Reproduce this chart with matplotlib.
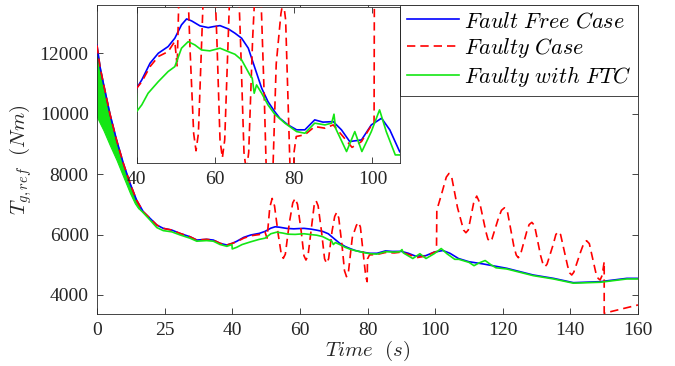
import matplotlib
matplotlib.use('Agg')
import matplotlib.pyplot as plt

plt.rcParams['mathtext.fontset'] = 'cm'
plt.rcParams['font.family'] = ['Liberation Serif', 'DejaVu Serif']

# ---- data ----
# fault free case
t_free = [0, 0.9, 1.9, 3.8, 5.8, 7.8, 9.8, 11.7, 13.7, 15.7, 17.7, 19.6, 22.1, 24.5, 27.5, 29.5,
          32.4, 34.4, 36.4, 38.4, 40, 41.3, 43.4, 45.5, 48.0, 49.7, 51.4, 52.7, 54.0, 56.1, 58.2,
          59.5, 61.2, 63.3, 65.0, 66.7, 68.4, 70.1, 71.8, 73.4, 75.1, 76.4, 78.5, 80.7, 82.8, 85.3,
          87.4, 90.0, 92.1, 94.2, 97.2, 99.7, 102.3, 104.4, 106.9, 110, 114.3, 121.2, 129, 135,
          140.9, 148.8, 156.7, 160]
v_free = [12264, 11547, 11000, 10006, 9124, 8354, 7692, 7140, 6754, 6535, 6314, 6205, 6149, 6040,
          5927, 5818, 5841, 5818, 5709, 5653, 5709, 5775, 5907, 5986, 6039, 6105, 6211, 6258, 6242,
          6203, 6189, 6197, 6205, 6179, 6145, 6105, 6026, 5867, 5709, 5603, 5524, 5471, 5418, 5379,
          5379, 5458, 5440, 5444, 5379, 5286, 5299, 5418, 5471, 5379, 5207, 5100, 5025, 4882, 4661,
          4550, 4407, 4440, 4550, 4550]

# faulty case
t_fault = [0, 0.9, 1.9, 3.8, 5.8, 7.8, 9.8, 11.7, 13.7, 15.7, 17.7, 19.6, 22.1, 24.5, 27.5, 29.5,
           32.4, 34.4, 36.4, 38.4, 40, 41.3, 43.4, 45.5, 48.0, 49.7,
           50.3, 51.1, 51.8, 52.5, 53.6, 54.5, 55.1, 55.7, 56.9, 57.9, 58.6, 59.3, 60.4, 61.2, 61.8,
           62.4, 63.5, 64.2, 64.8, 65.4, 66.4, 67.3, 67.9, 68.5, 69.5, 70.3, 70.9, 71.5, 72.5, 73.2,
           73.8, 74.4, 75.5, 76.7, 77.3, 77.9, 78.9, 79.5, 79.9, 80.0, 80.6, 82.8, 85.3, 87.9, 90.0,
           92.5, 94.8, 97.2, 99.8, 100.4, 100.5, 101.8, 103.3, 104.1, 104.9, 106.6, 108.4, 109.1,
           109.8, 111.4, 112.3, 113.2, 115.0, 115.6, 116.2, 116.8, 118.6, 119.6, 120.5, 121.4,
           123.3, 124.0, 124.6, 125.2, 127.1, 127.8, 128.6, 129.4, 131.2, 131.9, 132.5, 133.1,
           135.0, 135.7, 136.4, 137.1, 139.2, 139.8, 140.4, 141.0, 143.1, 144.0, 144.8, 145.6,
           147.6, 148.2, 148.8, 149.4, 150.0, 150.0, 160]
v_fault = [12264, 11547, 11000, 10006, 9124, 8354, 7692, 7140, 6754, 6535, 6314, 6205, 6149, 6040,
           5927, 5818, 5841, 5818, 5709, 5653, 5709, 5760, 5880, 5960, 5999, 6080,
           5880, 6900, 7196, 6950, 6000, 5350, 5213, 5350, 6400, 7050, 7196, 7000, 6100, 5300, 5157,
           5300, 6300, 6950, 7118, 6950, 6100, 5200, 5048, 5200, 6100, 6600, 6734, 6550, 5600, 4800,
           4605, 4800, 5900, 6300, 6403, 6250, 5200, 4600, 4440, 5194, 5326, 5340, 5405, 5392, 5418,
           5326, 5240, 5286, 5418, 5420, 6810, 7300, 7900, 8023, 7900, 6900, 6150, 6060,
           6150, 7050, 7273, 7050, 6100, 5850, 5762, 5850, 6500, 6800, 6886, 6750,
           5600, 5320, 5233, 5320, 6100, 6330, 6403, 6300, 5300, 5020, 4936, 5020,
           5700, 6000, 6093, 6000, 4950, 4730, 4661, 4750, 5450, 5720, 5795, 5700,
           4700, 4550, 4496, 4650, 5100, 3395, 3669]

# faulty with FTC (fast oscillating start shown as a band)
t_band = [0, 0.9, 1.9, 3.8, 5.8, 7.8, 9.8, 11.2, 12.2, 13.0]
band_hi = [12155, 11500, 10950, 9960, 9080, 8310, 7650, 7250, 6980, 6800]
band_lo = [9894, 9680, 9455, 8959, 8463, 7911, 7362, 7031, 6866, 6800]

t_ftc = [13.0, 13.7, 15.7, 17.7, 19.6, 22.1, 24.5, 27.5, 29.5, 32.4, 34.4, 36.4, 38.4, 39.9, 40.0,
         41.3, 42.9, 45.5, 48.0, 49.7, 51.4, 53.1, 54.8, 56.5, 58.6, 61.2, 63.3, 65.0, 66.7, 68.8,
         69.4, 69.9, 70.5, 71.8, 73.4, 75.1, 77.7, 80.7, 82.8, 85.3, 87.9, 89.6, 90.2, 90.6, 93.4,
         95.5, 97.3, 99.7, 101.8, 103.5, 105.8, 107.0, 110.0, 111.5, 113.0, 114.8, 116.5, 118.0,
         121.2, 129.0, 135.0, 140.9, 148.8, 156.7, 160]
v_ftc = [6800, 6720, 6480, 6230, 6130, 6090, 5990, 5880, 5780, 5800, 5780, 5670, 5610, 5669, 5524,
         5577, 5669, 5761, 5841, 5880, 6026, 6078, 6052, 6012, 6005, 6026, 5999, 5978, 5933, 5814,
         5788, 5669, 5735, 5669, 5577, 5504, 5432, 5365, 5352, 5432, 5418, 5432, 5503, 5392, 5207,
         5365, 5207, 5365, 5537, 5365, 5180, 5180, 5080, 4970, 5060, 5140, 5000, 4900,
         4860, 4640, 4530, 4390, 4420, 4530, 4530]

x_ticks = [0, 20, 40, 60, 80, 100, 120, 140, 160]
x_tick_labels = ['0', '25', '40', '60', '80', '100', '120', '140', '160']
y_ticks = [4000, 6000, 8000, 10000, 12000]
inset_ticks = [40, 60, 80, 100]

c_blue = '#0000ff'
c_red = '#ff0000'
c_green = '#14e614'
c_ax = '#262626'

fig = plt.figure(figsize=(6.75, 3.66), dpi=100)
ax = fig.add_axes([0.1437, 0.1421, 0.8015, 0.8443])


def draw(a, lw=1.2):
    a.fill_between(t_band, band_lo, band_hi, color=c_green, lw=0.8, zorder=2)
    l1, = a.plot(t_free, v_free, color=c_blue, lw=lw, zorder=3)
    l2, = a.plot(t_fault, v_fault, color=c_red, lw=lw, dashes=(5, 3), zorder=4)
    l3, = a.plot(t_ftc, v_ftc, color=c_green, lw=lw, zorder=5)
    return l1, l2, l3


l1, l2, l3 = draw(ax)
ax.set_xlim(0, 160)
ax.set_ylim(3370, 13600)
ax.set_xticks(x_ticks)
ax.set_xticklabels(x_tick_labels)
ax.set_yticks(y_ticks)
ax.tick_params(direction='in', length=4, width=0.6, colors=c_ax, labelsize=14,
               top=True, right=True, pad=6)
for s in ax.spines.values():
    s.set_color(c_ax)
    s.set_linewidth(0.6)
ax.set_xlabel(r'$Time\ \ (s)$', fontsize=15, labelpad=0, color=c_ax)
ax.set_ylabel(r'$T_{g,ref}\ \ (Nm)$', fontsize=15, labelpad=4, color=c_ax)

leg = ax.legend([l1, l2, l3],
                [r'$Fault\ Free\ Case$', r'$Faulty\ Case$', r'$Faulty\ with\ FTC$'],
                loc='upper right', bbox_to_anchor=(1.0, 1.0), borderaxespad=0,
                fontsize=16, handlelength=2.35, handletextpad=0.2, labelspacing=0.18,
                borderpad=0.3, fancybox=False, framealpha=1)
leg.get_frame().set_edgecolor(c_ax)
leg.get_frame().set_linewidth(0.6)
leg.set_zorder(10)

# inset zoom
axi = fig.add_axes([0.2025, 0.556, 0.3901, 0.424])
draw(axi)
axi.set_xlim(40, 107)
axi.set_ylim(5120, 6350)
axi.set_xticks(inset_ticks)
axi.set_yticks([])
axi.tick_params(direction='in', length=4, width=0.6, colors=c_ax, labelsize=14,
                top=True, pad=6)
for s in axi.spines.values():
    s.set_color(c_ax)
    s.set_linewidth(0.6)
axi.patch.set_alpha(1)

fig.savefig('out.png', dpi=100)
